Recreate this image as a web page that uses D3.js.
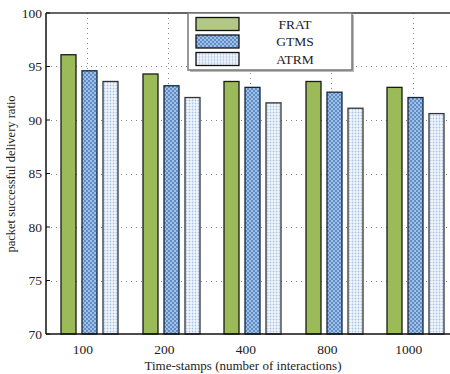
<!DOCTYPE html>
<html>
<head>
<meta charset="utf-8">
<script src="https://cdn.jsdelivr.net/npm/d3@7"></script>
<style>
  body { margin: 0; background: #fff; }
  svg { font-family: "Liberation Serif", "DejaVu Serif", serif; }
</style>
</head>
<body>
<div id="chart"></div>
<script>
const categories = ["100", "200", "400", "800", "1000"];
const seriesNames = ["FRAT", "GTMS", "ATRM"];
const frat = [96.1, 94.3, 93.6, 93.6, 93.05];
const gtms = [94.6, 93.2, 93.05, 92.6, 92.1];
const atrm = [93.6, 92.1, 91.6, 91.1, 90.6];
const yTicks = [70, 75, 80, 85, 90, 95, 100];

const seriesValues = [frat, gtms, atrm];

const width = 450, height = 374;
const margin = {top: 13, left: 46, bottom: 40};
const plotBottom = height - margin.bottom; // 334

const svg = d3.select("#chart").append("svg")
  .attr("width", width).attr("height", height);

const defs = svg.append("defs");

// GTMS : blue with light mesh
const p1 = defs.append("pattern").attr("id", "gtms")
  .attr("patternUnits", "userSpaceOnUse").attr("width", 4).attr("height", 4);
p1.append("rect").attr("width", 4).attr("height", 4).attr("fill", "#5d8ec9");
p1.append("circle").attr("cx", 1).attr("cy", 1).attr("r", 0.9).attr("fill", "#c3d7ef");
p1.append("circle").attr("cx", 3).attr("cy", 3).attr("r", 0.9).attr("fill", "#c3d7ef");

// ATRM : white with light blue dots
const p2 = defs.append("pattern").attr("id", "atrm")
  .attr("patternUnits", "userSpaceOnUse").attr("width", 3).attr("height", 3);
p2.append("rect").attr("width", 3).attr("height", 3).attr("fill", "#f4f7fc");
p2.append("circle").attr("cx", 1.5).attr("cy", 1.5).attr("r", 0.9).attr("fill", "#a6c2e6");

const fills = ["#9bbb59", "url(#gtms)", "url(#atrm)"];
const strokes = ["#1a1a1a", "#14243a", "#333"];

const x0 = d3.scaleBand().domain(categories).range([margin.left, margin.left + 81.5 * 5]);
const x1 = d3.scaleBand().domain(seriesNames).range([15, 72]).paddingInner(0.2857);
const y = d3.scaleLinear().domain([70, 100]).range([plotBottom, margin.top]);

// grid
const grid = svg.append("g").attr("stroke", "#888").attr("stroke-width", 1)
  .attr("stroke-dasharray", "1,4");
grid.selectAll("line.h").data(yTicks.filter(d => d > 70 && d < 100)).enter()
  .append("line").attr("class", "h")
  .attr("x1", margin.left).attr("x2", width)
  .attr("y1", d => Math.round(y(d)) + 0.5).attr("y2", d => Math.round(y(d)) + 0.5);
grid.selectAll("line.v").data(categories).enter()
  .append("line").attr("class", "v")
  .attr("x1", d => Math.round(x0(d) + x0.bandwidth() / 2) + 0.5)
  .attr("x2", d => Math.round(x0(d) + x0.bandwidth() / 2) + 0.5)
  .attr("y1", margin.top).attr("y2", plotBottom);

// bars (snapped to whole pixels so the patterns render evenly)
const groups = svg.append("g").selectAll("g")
  .data(categories).enter().append("g")
  .attr("transform", d => `translate(${Math.round(x0(d))},0)`);

groups.selectAll("rect")
  .data((d, i) => seriesNames.map((s, k) => ({s: s, k: k, v: seriesValues[k][i]})))
  .enter().append("rect")
  .attr("x", d => Math.round(x1(d.s)))
  .attr("y", d => y(d.v))
  .attr("width", Math.round(x1.bandwidth()))
  .attr("height", d => y(70) - y(d.v))
  .attr("fill", d => fills[d.k])
  .attr("stroke", d => strokes[d.k])
  .attr("stroke-width", 1.3);

// axes frame
const axis = svg.append("g").attr("stroke", "#111").attr("stroke-width", 1.5);
axis.append("line").attr("x1", margin.left).attr("x2", margin.left)
  .attr("y1", margin.top).attr("y2", plotBottom);
axis.append("line").attr("x1", margin.left).attr("x2", width)
  .attr("y1", plotBottom).attr("y2", plotBottom);
axis.append("line").attr("x1", margin.left).attr("x2", width)
  .attr("y1", margin.top).attr("y2", margin.top).attr("stroke", "#333");

// y ticks
const yAxis = svg.append("g");
yAxis.selectAll("line").data(yTicks).enter().append("line")
  .attr("x1", margin.left).attr("x2", margin.left + 4)
  .attr("y1", d => y(d)).attr("y2", d => y(d))
  .attr("stroke", "#111");
yAxis.selectAll("text").data(yTicks).enter().append("text")
  .attr("x", 42).attr("y", d => y(d) + 4.5)
  .attr("text-anchor", "end").attr("font-size", 13.5).attr("fill", "#222")
  .text(d => d);

// x tick labels
svg.append("g").selectAll("text").data(categories).enter().append("text")
  .attr("x", d => x0(d) + x0.bandwidth() / 2 - 4)
  .attr("y", 354)
  .attr("text-anchor", "middle").attr("font-size", 13.5).attr("fill", "#222")
  .text(d => d);

// axis titles
svg.append("text").attr("x", 243).attr("y", 370)
  .attr("text-anchor", "middle").attr("font-size", 13).attr("fill", "#222")
  .text("Time-stamps (number of interactions)");
svg.append("text")
  .attr("transform", "translate(15,174) rotate(-90)")
  .attr("text-anchor", "middle").attr("font-size", 12.5).attr("fill", "#222")
  .text("packet successful delivery ratio");

// legend
const legend = svg.append("g");
legend.append("rect").attr("x", 190).attr("y", 15).attr("width", 164).attr("height", 57)
  .attr("fill", "#bbb");
legend.append("rect").attr("x", 188).attr("y", 13).attr("width", 164).attr("height", 57)
  .attr("fill", "#fff").attr("stroke", "#777").attr("stroke-width", 1.5);
const items = legend.selectAll("g.item").data(seriesNames).enter().append("g")
  .attr("transform", (d, i) => `translate(0,${17.5 + i * 17.5})`);
items.append("rect").attr("x", 196).attr("y", 0).attr("width", 43).attr("height", 13)
  .attr("fill", (d, i) => i === 0 ? "#b3c885" : fills[i])
  .attr("stroke", "#111").attr("stroke-width", 1.3);
items.append("text").attr("x", 295).attr("y", 11)
  .attr("text-anchor", "middle").attr("font-size", 13.5).attr("fill", "#222")
  .text(d => d);
</script>
</body>
</html>
